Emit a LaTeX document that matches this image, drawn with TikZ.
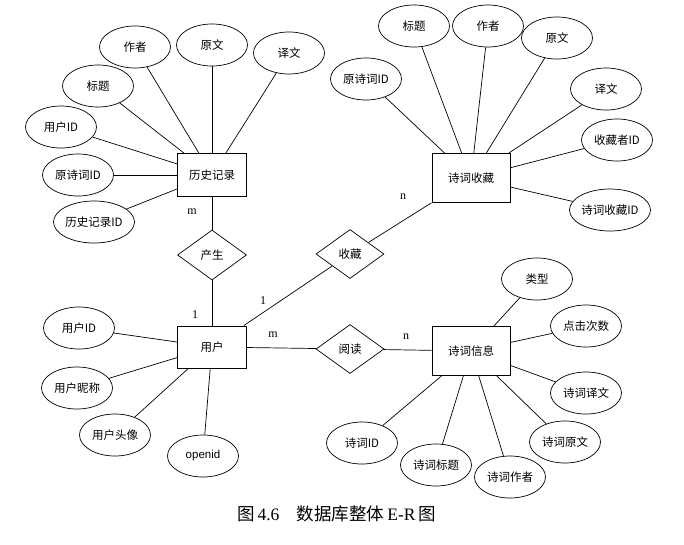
\documentclass[tikz,border=0pt]{standalone}
\usepackage{fontspec}
\setmainfont{Liberation Sans}
\newfontfamily\cjk{Noto Sans CJK SC}
\newfontfamily\ser{Liberation Serif}
\usetikzlibrary{shapes.geometric}
\tikzset{
  attr/.style={ellipse,draw,fill=white,line width=0.7pt,minimum width=71pt,minimum height=42pt,inner sep=0pt,font=\cjk\fontsize{11.5}{13}\selectfont},
  ent/.style={rectangle,draw,fill=white,line width=1pt,inner sep=0pt,font=\cjk\fontsize{11.5}{13}\selectfont},
  rel/.style={diamond,draw,fill=white,line width=0.7pt,aspect=1.4,minimum width=68pt,minimum height=49pt,inner sep=0pt,font=\cjk\fontsize{11.5}{13}\selectfont},
  card/.style={font=\ser\fontsize{12}{13}\selectfont,inner sep=0pt},
  conn/.style={line width=0.7pt}
}
\begin{document}
\begin{tikzpicture}[x=1pt,y=-1pt]
\useasboundingbox (0,0) rectangle (684,544);
% entities
\node[ent,minimum width=69pt,minimum height=43pt] (hist) at (212,175) {历史记录};
\node[ent,minimum width=69pt,minimum height=42pt] (user) at (212,347) {用户};
\node[ent,minimum width=78pt,minimum height=49pt] (fav) at (471,178) {诗词收藏};
\node[ent,minimum width=78pt,minimum height=49pt] (info) at (471,351) {诗词信息};
% relationships
\node[rel,minimum width=69pt,minimum height=50pt] (gen) at (212,255) {产生};
\node[rel] (col) at (350,254) {收藏};
\node[rel] (read) at (350,349) {阅读};
% history attributes
\node[attr] (hzz) at (135,47) {作者};
\node[attr] (hyw) at (212,45) {原文};
\node[attr] (hyi) at (289,53) {译文};
\node[attr] (hbt) at (98,86) {标题};
\node[attr] (huid) at (61,127) {用户ID};
\node[attr] (hpid) at (78,175) {原诗词ID};
\node[attr] (hid) at (94,222) {历史记录ID};
% user attributes
\node[attr] (uid) at (79,328) {用户ID};
\node[attr] (unick) at (77,388) {用户昵称};
\node[attr] (uava) at (115,435) {用户头像};
\node[attr,font=\fontsize{11.5}{13}\selectfont] (uopen) at (203,456) {openid};
% favourite attributes
\node[attr] (fbt) at (414,26) {标题};
\node[attr] (fzz) at (488,26) {作者};
\node[attr] (fyw) at (557,38) {原文};
\node[attr] (fpid) at (366,79) {原诗词ID};
\node[attr] (fyi) at (606,89) {译文};
\node[attr] (fuid) at (617,140) {收藏者ID};
\node[attr] (fid) at (610,210) {诗词收藏ID};
% poem attributes
\node[attr] (ptype) at (537,279) {类型};
\node[attr] (pclick) at (586,326) {点击次数};
\node[attr] (pyi) at (586,393) {诗词译文};
\node[attr] (pyw) at (565,442) {诗词原文};
\node[attr] (pbt) at (436,465) {诗词标题};
\node[attr] (pzz) at (510,477) {诗词作者};
\node[attr] (pid) at (362,443) {诗词ID};
% connectors
\foreach \a in {hzz,hyw,hyi,hbt,huid,hpid,hid,gen} \draw[conn] (hist) -- (\a);
\foreach \a in {uid,unick,uava,uopen,gen,col,read} \draw[conn] (user) -- (\a);
\foreach \a in {fbt,fzz,fyw,fpid,fyi,fuid,fid,col} \draw[conn] (fav) -- (\a);
\foreach \a in {ptype,pclick,pyi,pyw,pbt,pzz,pid,read} \draw[conn] (info) -- (\a);
% cardinalities
\node[card] (c1) at (192,212) {m};
\node[card] (c2) at (195,315) {1};
\node[card] (c3) at (263,301) {1};
\node[card] (c4) at (273,335) {m};
\node[card] (c5) at (403,197) {n};
\node[card] (c6) at (406,337) {n};
% caption
\node[inner sep=0pt,anchor=west,font=\fontsize{17.5}{20}\selectfont] (cap) at (237,514) {{\cjk 图}\,{\ser 4.6}\hspace{1em}{\cjk 数据库整体}\,{\ser E-R}\,{\cjk 图}};
\end{tikzpicture}
\end{document}
